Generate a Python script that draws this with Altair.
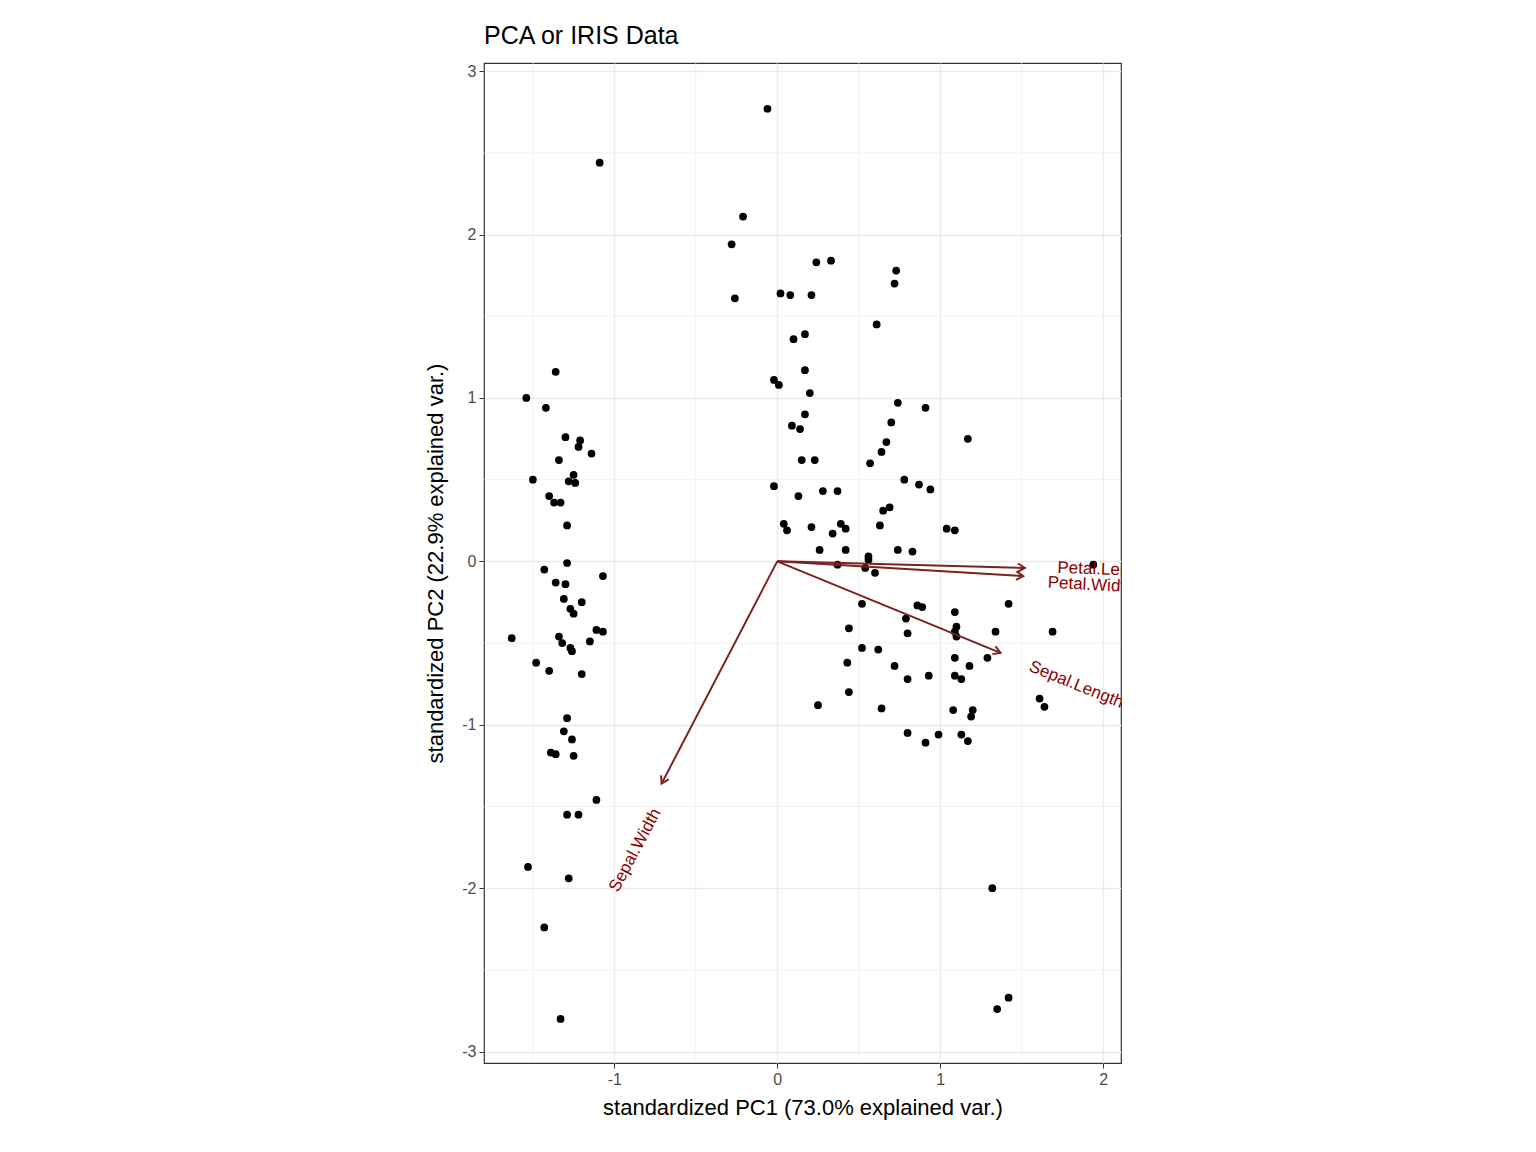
import altair as alt
import numpy as np
import pandas as pd

# scores (standardized PC1, PC2)
pc1 = [-1.09, -1.54, -1.42, -1.36, -1.30, -1.21, -1.22, -1.34, -1.14, -1.25,
       -1.24, -1.28, -1.50, -1.40, -1.33, -1.37, -1.29, -1.29, -1.43, -1.07,
       -1.36, -1.30, -1.31, -1.20, -1.27, -1.25, -1.63, -1.11, -1.07, -1.15,
       -1.34, -1.32, -1.27, -1.26, -1.48, -1.40, -1.20, -1.29, -1.31, -1.26,
       -1.39, -1.36, -1.25, -1.11, -1.29, -1.22, -1.53, -1.28, -1.43, -1.33,
       -0.06, -0.21, -0.28, -0.26, 0.02, 0.08, 0.21, 0.24, 0.33, 0.73,
       0.72, 0.61, 0.17, 0.10, 0.17, -0.02, 0.01, 0.20, 0.74, 0.17,
       0.09, 0.14, 0.91, 0.70, 0.67, 1.17, 0.64, 0.57, 0.15, 0.23,
       -0.02, 0.78, 0.87, 0.94, 0.13, 0.28, 0.37, 0.69, 0.65, 0.63,
       0.39, 0.42, 0.34, 0.21, 0.04, 0.06, 1.04, 1.09, 0.56, 0.74,
       0.83, 0.26, 0.42, 0.56, 0.54, 0.37, 0.60, 1.42, 1.94, 0.52,
       0.86, 0.89, 1.09, 1.10, 1.09, 1.10, 1.34, 1.69, 0.44, 0.79,
       0.80, 0.62, 0.52, 1.29, 1.09, 1.18, 0.72, 0.43, 1.09, 1.13,
       0.80, 0.93, 1.61, 1.64, 0.44, 0.25, 0.64, 1.08, 1.20, 1.19,
       1.13, 1.17, 0.99, 0.80, 0.91, 1.32, 1.42, 1.35]
pc2 = [2.44, 1.00, 0.94, 1.16, 0.76, 0.74, 0.70, 0.62, 0.66, 0.53,
       0.48, 0.49, 0.50, 0.40, 0.36, 0.36, 0.22, -0.01, -0.05, -0.09,
       -0.13, -0.14, -0.23, -0.25, -0.29, -0.32, -0.47, -0.42, -0.43, -0.49,
       -0.46, -0.50, -0.53, -0.55, -0.62, -0.67, -0.69, -0.96, -1.04, -1.09,
       -1.17, -1.18, -1.19, -1.46, -1.55, -1.55, -1.87, -1.94, -2.24, -2.80,
       2.77, 2.11, 1.94, 1.61, 1.64, 1.63, 1.63, 1.83, 1.84, 1.78,
       1.70, 1.45, 1.39, 1.36, 1.17, 1.11, 1.08, 1.03, 0.97, 0.90,
       0.83, 0.81, 0.94, 0.85, 0.73, 0.75, 0.67, 0.60, 0.62, 0.62,
       0.46, 0.50, 0.47, 0.44, 0.40, 0.43, 0.43, 0.33, 0.31, 0.22,
       0.23, 0.20, 0.17, 0.21, 0.23, 0.19, 0.20, 0.19, 0.03, 0.07,
       0.06, 0.07, 0.07, 0.01, -0.04, -0.02, -0.07, -0.26, -0.02, -0.26,
       -0.27, -0.28, -0.31, -0.40, -0.43, -0.46, -0.43, -0.43, -0.41, -0.35,
       -0.44, -0.54, -0.53, -0.59, -0.59, -0.64, -0.64, -0.62, -0.70, -0.72,
       -0.72, -0.70, -0.84, -0.89, -0.80, -0.88, -0.90, -0.91, -0.91, -0.95,
       -1.06, -1.10, -1.06, -1.05, -1.11, -2.00, -2.67, -2.74]

# loadings arrows and label anchors
var_names = ["Petal.Length", "Petal.Width", "Sepal.Length", "Sepal.Width"]
arrow_x = [1.52, 1.51, 1.37, -0.71]
arrow_y = [-0.04, -0.09, -0.56, -1.36]
label_x = [1.72, 1.66, 1.55, -0.74]
label_y = [-0.04, -0.13, -0.64, -1.52]
label_angle = [2, 3, 22, 298]
label_align = ["left", "left", "left", "right"]

major_ticks = [-1, 0, 1, 2]
major_y = [-3, -2, -1, 0, 1, 2, 3]
minor_x = [-1.5, -0.5, 0.5, 1.5]
minor_y = [-2.5, -1.5, -0.5, 0.5, 1.5, 2.5]

scores = pd.DataFrame({"PC1": pc1, "PC2": pc2})
arrows = pd.DataFrame({"var": var_names, "x0": 0.0, "y0": 0.0, "x": arrow_x, "y": arrow_y})
arrows["ang"] = np.degrees(np.arctan2(-arrows["y"], arrows["x"]))
labels = pd.DataFrame({"var": var_names, "x": label_x, "y": label_y,
                       "angle": label_angle, "align": label_align})

xs = alt.Scale(domain=[-1.80, 2.11], nice=False, zero=False)
ys = alt.Scale(domain=[-3.07, 3.05], nice=False, zero=False)
ARROW = "#7f2020"
LABEL_EXPR = "replace(format(datum.value, '.0f'), '\u2212', '-')"

minor_v = alt.Chart(pd.DataFrame({"v": minor_x})).mark_rule(
    color="#ebebeb", strokeWidth=0.7).encode(x=alt.X("v:Q", scale=xs))
minor_h = alt.Chart(pd.DataFrame({"v": minor_y})).mark_rule(
    color="#ebebeb", strokeWidth=0.7).encode(y=alt.Y("v:Q", scale=ys))

points = alt.Chart(scores).mark_circle(color="black", opacity=1, size=60).encode(
    x=alt.X("PC1:Q", scale=xs, title="standardized PC1 (73.0% explained var.)",
            axis=alt.Axis(values=major_ticks, gridColor="#ebebeb", gridWidth=1.4,
                          labelExpr=LABEL_EXPR, titlePadding=10)),
    y=alt.Y("PC2:Q", scale=ys, title="standardized PC2 (22.9% explained var.)",
            axis=alt.Axis(values=major_y, gridColor="#ebebeb", gridWidth=1.4,
                          labelExpr=LABEL_EXPR, titlePadding=14)),
)

shafts = alt.Chart(arrows).mark_rule(color=ARROW, strokeWidth=2).encode(
    x=alt.X("x0:Q", scale=xs), y=alt.Y("y0:Q", scale=ys), x2="x:Q", y2="y:Q")

heads = alt.Chart(arrows).mark_point(
    shape="M -1 -0.6 L 0 0 L -1 0.6", filled=False, color=ARROW,
    strokeWidth=2, size=200, opacity=1,
).encode(x=alt.X("x:Q", scale=xs), y=alt.Y("y:Q", scale=ys), angle=alt.Angle("ang:Q", scale=None))

texts = []
for align in ["left", "right"]:
    texts.append(
        alt.Chart(labels[labels["align"] == align]).mark_text(
            align=align, baseline="middle", color="darkred", fontSize=17,
            font="Liberation Sans", clip=True,
        ).encode(x=alt.X("x:Q", scale=xs), y=alt.Y("y:Q", scale=ys),
                 text="var:N", angle=alt.Angle("angle:Q", scale=None))
    )

chart = alt.layer(minor_v, minor_h, points, shafts, heads, *texts).properties(
    width=637, height=1000,
    title=alt.Title("PCA or IRIS Data", anchor="start", frame="group", fontSize=25,
                    fontWeight="normal", font="Liberation Sans", color="black", offset=14),
    autosize=alt.AutoSizeParams(type="none"),
    padding={"left": 476, "top": 55, "right": 30, "bottom": 80},
).configure_view(stroke="#333333", strokeWidth=1.2).configure_axis(
    labelFont="Liberation Sans", titleFont="Liberation Sans",
    labelFontSize=16, titleFontSize=22, titleFontWeight="normal",
    labelColor="#4d4d4d", titleColor="black", tickColor="#333333",
    tickSize=5, domain=False, labelPadding=3,
)

chart.save("out.html", embed_options={"renderer": "svg", "actions": False})
